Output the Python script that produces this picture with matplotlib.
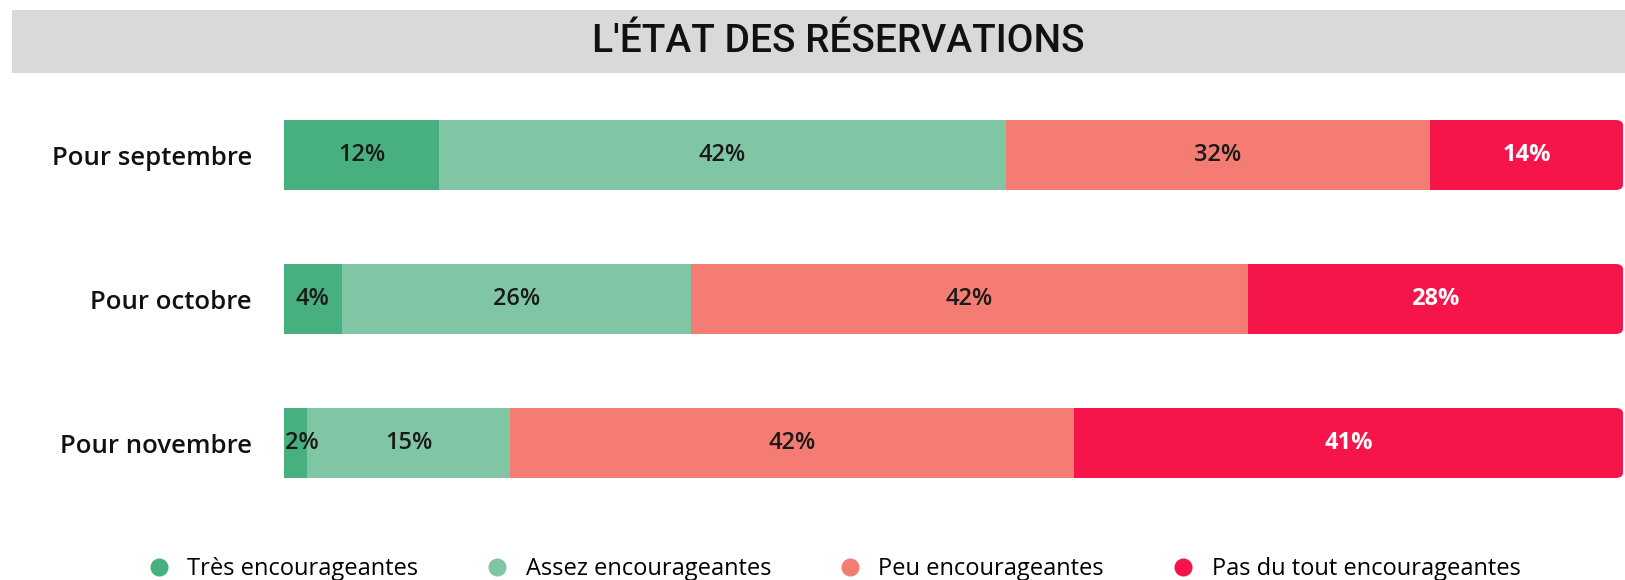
import matplotlib.pyplot as plt
from matplotlib.patches import Rectangle, FancyBboxPatch
from matplotlib.lines import Line2D

# --- Data (shares in %, labels shown rounded) ---
months = ["Pour septembre", "Pour octobre", "Pour novembre"]
categories = ["Très encourageantes", "Assez encourageantes",
              "Peu encourageantes", "Pas du tout encourageantes"]
tres = [11.6, 4.3, 1.7]
assez = [42.3, 26.1, 15.2]
peu = [31.7, 41.6, 42.1]
pas_du_tout = [14.4, 28.0, 41.0]

colors = ["#48b07f", "#80c6a5", "#f47c72", "#f5154b"]
label_colors = ["#1a1a1a", "#1a1a1a", "#1a1a1a", "white"]

plt.rcParams["font.family"] = ["Open Sans", "DejaVu Sans"]

fig = plt.figure(figsize=(16.25, 5.8), dpi=100)

# title band
fig.patches.append(Rectangle((12 / 1625, 1 - 73 / 580), 1 - 12 / 1625, 63 / 580,
                             transform=fig.transFigure, facecolor="#d9d9d9",
                             edgecolor="none", zorder=0))
fig.text(0.516, 1 - 42 / 580, "L'ÉTAT DES RÉSERVATIONS", ha="center", va="center",
         fontsize=28, fontfamily=["Roboto", "DejaVu Sans"], fontweight="medium",
         color="#111111")

ax = fig.add_axes([284 / 1625, 1 - 515 / 580, (1623 - 284) / 1625, 432 / 580])

series = [tres, assez, peu, pas_du_tout]
height = 70 / 144
left = [0, 0, 0]
for i, vals in enumerate(series):
    for j, v in enumerate(vals):
        if i == len(series) - 1:
            # last segment has rounded right corners
            ax.add_patch(FancyBboxPatch((left[j], j - height / 2), v, height,
                                        boxstyle="round,pad=0,rounding_size=0.6",
                                        mutation_aspect=0.06,
                                        facecolor=colors[i], edgecolor="none"))
            ax.add_patch(Rectangle((left[j], j - height / 2), v / 2, height,
                                   facecolor=colors[i], edgecolor="none"))
        else:
            ax.barh(j, v, left=left[j], height=height, color=colors[i], edgecolor="none")
        # keep tiny-segment labels inside the bar's left edge
        xt = max(left[j] + v / 2, 1.35)
        ax.text(xt, j, f"{v:.0f}%", ha="center", va="center", fontsize=17,
                color=label_colors[i], fontweight="bold" if i == 3 else "semibold")
        left[j] += v

ax.set_xlim(0, 100)
ax.set_ylim(2.5, -0.5)
ax.set_yticks(range(len(months)))
ax.set_yticklabels(months, fontsize=18.5, color="#111111", fontweight="semibold")
ax.tick_params(axis="y", length=0, pad=23)
ax.set_xticks([])
for s in ax.spines.values():
    s.set_visible(False)

handles = [Line2D([], [], marker="o", linestyle="none", markersize=13,
                  markerfacecolor=c, markeredgecolor="none") for c in colors]
fig.legend(handles, categories, loc="center", bbox_to_anchor=(0.513, 1 - 569 / 580),
           ncol=4, frameon=False, fontsize=17, columnspacing=2.85, handlelength=1.0,
           handletextpad=0.7)

plt.savefig("out.png", dpi=100)
